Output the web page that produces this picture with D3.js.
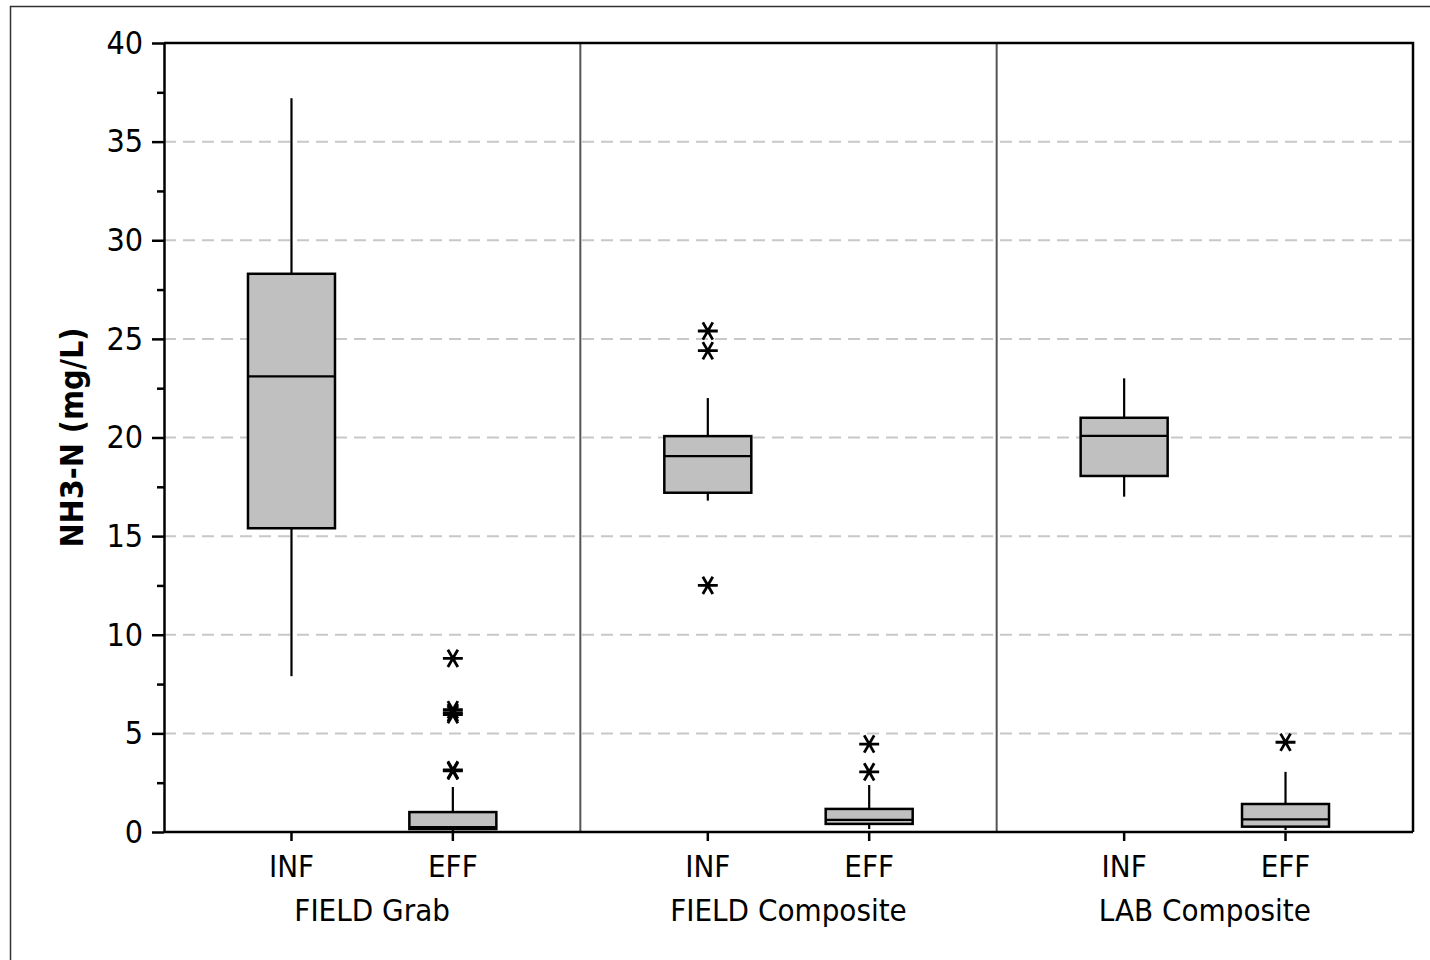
<!DOCTYPE html>
<html>
<head>
<meta charset="utf-8">
<script src="https://d3js.org/d3.v7.min.js"></script>
<style>
  body { margin: 0; background: #fff; }
  svg { display: block; font-family: "DejaVu Sans Condensed", "DejaVu Sans", sans-serif; }
</style>
</head>
<body>
<svg id="chart" width="1430" height="960"></svg>
<script>
// groups and sample types
const groups = ["FIELD Grab", "FIELD Composite", "LAB Composite"];
const types = ["INF", "EFF"];

// box stats, ordered INF/EFF per group
const boxGroup = ["FIELD Grab", "FIELD Grab", "FIELD Composite", "FIELD Composite", "LAB Composite", "LAB Composite"];
const boxType = ["INF", "EFF", "INF", "EFF", "INF", "EFF"];
const whiskerLow = [7.9, 0.05, 16.8, 0.15, 17.0, 0.1];
const q1 = [15.4, 0.15, 17.2, 0.41, 18.05, 0.27];
const median = [23.1, 0.25, 19.06, 0.61, 20.08, 0.64];
const q3 = [28.3, 1.01, 20.07, 1.17, 21.0, 1.42];
const whiskerHigh = [37.2, 2.28, 22.0, 2.38, 23.0, 3.05];
const outliers = [[], [8.8, 6.2, 6.05, 5.95, 3.1, 3.15], [25.4, 24.4, 12.5], [4.46, 3.05], [], [4.55]];

const yTicks = [0, 5, 10, 15, 20, 25, 30, 35, 40];

const svg = d3.select("#chart");
const mLeft = 164, mRight = 1413, mTop = 43, mBottom = 832;

// outer frame
svg.append("rect")
    .attr("x", 10.5).attr("y", 6.5)
    .attr("width", 1430).attr("height", 960)
    .attr("fill", "none").attr("stroke", "#333").attr("stroke-width", 1.5);

const y = d3.scaleLinear().domain([0, 40]).range([mBottom, mTop]);
const xg = d3.scaleBand().domain(groups).range([mLeft, mRight]);
const xt = d3.scalePoint().domain(types).range([0, xg.bandwidth()]).padding(0.79);
const boxW = 87;

// gridlines
svg.append("g")
    .selectAll("line")
    .data(yTicks.filter(d => d > 0 && d < 40))
    .enter().append("line")
    .attr("x1", mLeft).attr("x2", mRight)
    .attr("y1", d => y(d)).attr("y2", d => y(d))
    .attr("stroke", "#c8c8c8").attr("stroke-width", 2)
    .attr("stroke-dasharray", "12,7");

// panel dividers
svg.append("g")
    .selectAll("line")
    .data(groups.slice(1))
    .enter().append("line")
    .attr("x1", d => xg(d)).attr("x2", d => xg(d))
    .attr("y1", mTop).attr("y2", mBottom)
    .attr("stroke", "#555").attr("stroke-width", 2);

// boxes
const boxes = svg.append("g")
    .selectAll("g")
    .data(d3.range(boxGroup.length))
    .enter().append("g")
    .attr("transform", i => `translate(${xg(boxGroup[i]) + xt(boxType[i])},0)`);

boxes.append("line")
    .attr("x1", 0).attr("x2", 0)
    .attr("y1", i => y(whiskerHigh[i])).attr("y2", i => y(q3[i]))
    .attr("stroke", "#000").attr("stroke-width", 2.2);
boxes.append("line")
    .attr("x1", 0).attr("x2", 0)
    .attr("y1", i => y(q1[i])).attr("y2", i => y(whiskerLow[i]))
    .attr("stroke", "#000").attr("stroke-width", 2.2);
boxes.append("rect")
    .attr("x", -boxW / 2).attr("width", boxW)
    .attr("y", i => y(q3[i]))
    .attr("height", i => y(q1[i]) - y(q3[i]))
    .attr("fill", "#c0c0c0").attr("stroke", "#000").attr("stroke-width", 2.5);
boxes.append("line")
    .attr("x1", -boxW / 2).attr("x2", boxW / 2)
    .attr("y1", i => y(median[i])).attr("y2", i => y(median[i]))
    .attr("stroke", "#000").attr("stroke-width", 2.2);

const star = d3.symbol().type(d3.symbolAsterisk).size(280);
boxes.each(function(i) {
    d3.select(this).selectAll("path.out")
        .data(outliers[i])
        .enter().append("path")
        .attr("class", "out")
        .attr("d", star)
        .attr("transform", d => `translate(0,${y(d)}) rotate(90)`)
        .attr("fill", "none").attr("stroke", "#000").attr("stroke-width", 2.8);
});

// y axis
const yAxis = svg.append("g")
    .attr("transform", `translate(${mLeft},0)`)
    .call(d3.axisLeft(y).tickValues(yTicks).tickSize(12).tickPadding(9).tickSizeOuter(0));
yAxis.attr("font-family", null).attr("font-size", 32);
yAxis.selectAll(".tick text").attr("fill", "#000");
yAxis.select(".domain").attr("stroke-width", 2.5);
yAxis.selectAll(".tick line").attr("stroke-width", 2.5);

svg.append("g")
    .attr("transform", `translate(${mLeft},0)`)
    .call(d3.axisLeft(y).tickValues(d3.range(2.5, 40, 5)).tickSize(7).tickFormat(""))
    .call(g => g.select(".domain").remove())
    .selectAll(".tick line").attr("stroke-width", 2.5);

// plot frame top/right
svg.append("path")
    .attr("d", `M${mLeft},${mTop}H${mRight}V${mBottom}`)
    .attr("fill", "none").attr("stroke", "#000").attr("stroke-width", 2.5);

// x axis
svg.append("line")
    .attr("x1", mLeft).attr("x2", mRight)
    .attr("y1", mBottom).attr("y2", mBottom)
    .attr("stroke", "#000").attr("stroke-width", 2.5);

const xa = svg.append("g");
groups.forEach(gname => {
    types.forEach(t => {
        const cx = xg(gname) + xt(t);
        xa.append("line")
            .attr("x1", cx).attr("x2", cx)
            .attr("y1", mBottom).attr("y2", mBottom + 9)
            .attr("stroke", "#000").attr("stroke-width", 2.5);
        xa.append("text")
            .attr("x", cx).attr("y", 877)
            .attr("text-anchor", "middle")
            .attr("font-size", 31)
            .text(t);
    });
    xa.append("text")
        .attr("x", xg(gname) + xg.bandwidth() / 2).attr("y", 921)
        .attr("text-anchor", "middle")
        .attr("font-size", 31)
        .text(gname);
});

// y title
svg.append("text")
    .attr("transform", `translate(83,${(mTop + mBottom) / 2}) rotate(-90)`)
    .attr("text-anchor", "middle")
    .attr("font-size", 32)
    .attr("font-weight", "bold")
    .text("NH3-N (mg/L)");
</script>
</body>
</html>
